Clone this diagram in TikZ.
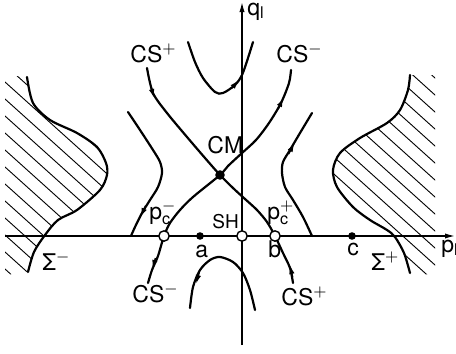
\documentclass[tikz,border=0pt]{standalone}
\usepackage{fontspec}
\setmainfont{TeX Gyre Heros}
\usetikzlibrary{arrows.meta}

\newcommand\pcr[1]{p$_{\mathrm{c}}^{#1}$}
\newcommand\leftwall{plot[smooth] coordinates {(27,77) (33,103) (50,120)
  (77,133) (97,147) (106,163) (107,175) (100,190) (77,210) (58,220)
  (45,235) (34,252) (28,272)}}
\newcommand\rightwall{plot[smooth] coordinates {(410,75) (408,90) (400,110)
  (387,123) (360,138) (340,153) (333,170) (337,187) (353,207) (370,220)
  (387,230) (395,237) (404,253) (410,273)}}

\tikzset{
  curve/.style={line width=1.1pt, line cap=round},
  axis/.style={line width=0.7pt, -{Latex[length=5pt,width=2.6pt]}},
  hatch/.style={line width=0.45pt},
  flowtip/.style={line width=0.8pt, -{Latex[length=4.5pt,width=2.8pt]}},
  fixdot/.style={circle, fill, inner sep=0pt, minimum size=3.8pt},
  opendot/.style={circle, draw, fill=white, line width=0.7pt,
    inner sep=0pt, minimum size=5.2pt},
  lbl/.style={inner sep=0pt, anchor=base west,
    font=\fontsize{11.5}{13}\selectfont},
}

\begin{document}
\begin{tikzpicture}[x=0.5pt, y=-0.5pt]
  \useasboundingbox (0,0) rectangle (456,354);
  % ---------- fixed points ----------
  \coordinate (CM) at (220,175);
  \coordinate (SH) at (242,236);
  \coordinate (pcm) at (164,236);
  \coordinate (pcp) at (275,236);
  \coordinate (a) at (200,236);
  \coordinate (c) at (352,236);
  % ---------- hatched regions ----------
  \begin{scope}
    \clip \leftwall -- (5,275) -- (5,75) -- cycle;
    \foreach \k in {-25,...,15}
      \draw[hatch] (-100,17*\k+4.5) -- ++(600,540);
  \end{scope}
  \begin{scope}
    \clip \rightwall -- (435,275) -- (435,75) -- cycle;
    \foreach \k in {-25,...,15}
      \draw[hatch] (-100,17*\k+4.5) -- ++(600,540);
  \end{scope}
  \draw[curve] \leftwall;
  \draw[curve] \rightwall;
  % ---------- axes ----------
  \coordinate (pw) at (5,236);
  \coordinate (pe) at (455,236);
  \coordinate (qs) at (242,345);
  \coordinate (qn) at (242,2);
  \draw[axis] (pw) -- (pe);
  \draw[axis] (qs) -- (qn);
  % ---------- separatrices through CM ----------
  \draw[curve] plot[smooth] coordinates {(147,68)
    (153,93) (167,113) (187,137) (205,158) (220,175) (233,188) (245,199)
    (257,210) (267,222) (275,236) (283,253) (290,268) (293,283)};
  \draw[curve] plot[smooth] coordinates {(291,70)
    (289,83) (281,103) (269,123) (256,140) (242,153) (228,166) (220,175)
    (193,197) (180,210) (170,223) (164,236) (158,256) (152,270) (148,283)};
  % ---------- other orbits ----------
  \draw[curve] plot[smooth] coordinates {(188,42) (195,62)
    (203,78) (215,92) (223,93) (235,85) (242,75) (248,58) (253,42)};
  \draw[curve] plot[smooth] coordinates {(255,310) (250,290)
    (243,273) (233,262) (220,257) (210,260) (200,270) (193,287) (190,308)};
  \draw[curve] plot[smooth] coordinates {(128,112) (140,130)
    (153,150) (160,162) (162,173) (158,187) (150,200) (142,213)
    (135,227) (131,236)};
  \draw[curve] plot[smooth] coordinates {(312,236) (303,217)
    (293,200) (285,187) (282,173) (283,162) (290,150) (300,133) (312,113)};
  % ---------- flow arrows ----------
  \draw[flowtip] (151,87) -- (154,98);
  \draw[flowtip] (292.5,277) -- (290,265);
  \draw[flowtip] (278,109) -- (283.5,98);
  \draw[flowtip] (155.5,258) -- (152.5,269);
  \draw[flowtip] (232,88) -- (238.5,80);
  \draw[flowtip] (199,273) -- (196,284);
  \draw[flowtip] (145.5,206) -- (140.5,217);
  \draw[flowtip] (288.5,154) -- (294.5,143);
  % ---------- dots ----------
  \node[fixdot, minimum size=4.8pt] (CMdot) at (CM) {};
  \node[opendot] (SHdot) at (SH) {};
  \node[opendot] (pcmdot) at (pcm) {};
  \node[opendot] (pcpdot) at (pcp) {};
  \node[fixdot] (adot) at (a) {};
  \node[fixdot] (cdot) at (c) {};
  % ---------- labels ----------
  \node[lbl] (qlab) at (247,15) {q\textsubscript{l}};
  \node[lbl] (plab) at (441,252) {p\textsubscript{l}};
  \node[lbl] (cstl) at (130,62) {CS$^+$};
  \node[lbl] (cstr) at (276,62) {CS$^-$};
  \node[lbl] (csbl) at (132,302) {CS$^-$};
  \node[lbl] (csbr) at (281,305) {CS$^+$};
  \node[lbl] (cmlab) at (207,153) {CM};
  \node[lbl, font=\fontsize{9.5}{11}\selectfont] (shlab) at (212,228) {SH};
  \node[lbl] (pcmlab) at (149,219) {\pcr{-}};
  \node[lbl] (pcplab) at (267,219) {\pcr{+}};
  \node[lbl] (alab) at (195,257) {a};
  \node[lbl] (blab) at (268,257) {b};
  \node[lbl] (clab) at (347,255) {c};
  \node[lbl] (sigm) at (42,270) {Σ$^-$};
  \node[lbl] (sigp) at (371,270) {Σ$^+$};
\end{tikzpicture}
\end{document}
